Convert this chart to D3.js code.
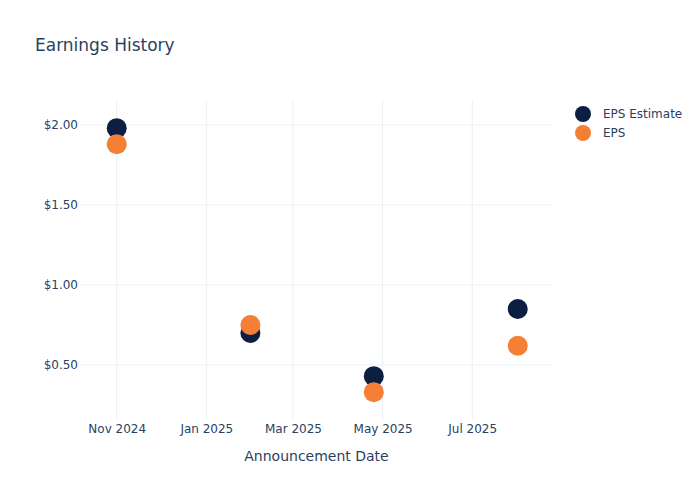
<!DOCTYPE html>
<html>
<head>
<meta charset="utf-8">
<script src="https://cdn.jsdelivr.net/npm/d3@7"></script>
<style>
  body { margin: 0; background: #fff; }
  svg { font-family: "DejaVu Sans", Verdana, sans-serif; }
</style>
</head>
<body>
<svg id="chart" width="700" height="500"></svg>
<script>
const dates = ["2024-11-01", "2025-01-31", "2025-04-25", "2025-08-01"];
const epsEstimate = [1.98, 0.70, 0.43, 0.85];
const eps = [1.88, 0.75, 0.33, 0.62];
const seriesNames = ["EPS Estimate", "EPS"];
const seriesColors = ["#0c1f43", "#f57f35"];
const xTicks = ["2024-11-01", "2025-01-01", "2025-03-01", "2025-05-01", "2025-07-01"];
const yTicks = [0.5, 1.0, 1.5, 2.0];

const parse = d3.utcParse("%Y-%m-%d");
const svg = d3.select("#chart");
const margin = { left: 80, right: 147, top: 100, bottom: 80 };
const W = 700, H = 500;
const textColor = "#2a3f5f";
const gridColor = "#ebf0f8";
const font = "'DejaVu Sans', Verdana, sans-serif";

const x = d3.scaleUtc()
  .domain([parse("2024-10-07"), parse("2025-08-25")])
  .range([margin.left, W - margin.right]);
const y = d3.scaleLinear()
  .domain([0.156, 2.156])
  .range([H - margin.bottom, margin.top]);

// Title
svg.append("text")
  .attr("x", 35).attr("y", 51)
  .attr("fill", textColor)
  .style("font-size", "17px")
  .text("Earnings History");

// Grid
const grid = svg.append("g");
grid.selectAll("line.vx").data(xTicks.map(parse)).join("line")
  .attr("x1", d => x(d)).attr("x2", d => x(d))
  .attr("y1", margin.top).attr("y2", H - margin.bottom)
  .attr("stroke", gridColor).attr("stroke-width", 1);
grid.selectAll("line.hy").data(yTicks).join("line")
  .attr("x1", margin.left).attr("x2", W - margin.right)
  .attr("y1", d => y(d)).attr("y2", d => y(d))
  .attr("stroke", gridColor).attr("stroke-width", 1);

// Axes
const gx = svg.append("g").attr("transform", `translate(0,${H - margin.bottom})`)
  .call(d3.axisBottom(x).tickValues(xTicks.map(parse))
    .tickFormat(d3.utcFormat("%b %Y")).tickSize(0).tickPadding(4));
gx.select(".domain").remove();
gx.selectAll("text").attr("fill", textColor).style("font-size", "12px")
  .style("font-family", font);

const gy = svg.append("g").attr("transform", `translate(${margin.left},0)`)
  .call(d3.axisLeft(y).tickValues(yTicks)
    .tickFormat(d => "$" + d3.format(".2f")(d)).tickSize(0).tickPadding(2));
gy.select(".domain").remove();
gy.selectAll("text").attr("fill", textColor).style("font-size", "12px")
  .style("font-family", font);

// Axis title
svg.append("text")
  .attr("x", (margin.left + W - margin.right) / 2).attr("y", 461)
  .attr("text-anchor", "middle")
  .attr("fill", textColor)
  .style("font-size", "14px")
  .text("Announcement Date");

// Points
const series = [epsEstimate, eps];
series.forEach((vals, i) => {
  svg.append("g").selectAll("circle")
    .data(vals.map((v, j) => ({ d: parse(dates[j]), v })))
    .join("circle")
    .attr("cx", d => x(d.d))
    .attr("cy", d => y(d.v))
    .attr("r", 10)
    .attr("fill", seriesColors[i]);
});

// Legend
const lg = svg.append("g");
seriesNames.forEach((name, i) => {
  const yy = 114 + i * 19;
  lg.append("circle").attr("cx", 583).attr("cy", yy).attr("r", 8).attr("fill", seriesColors[i]);
  lg.append("text").attr("x", 603).attr("y", yy + 4)
    .attr("fill", textColor).style("font-size", "12px").text(name);
});
</script>
</body>
</html>
